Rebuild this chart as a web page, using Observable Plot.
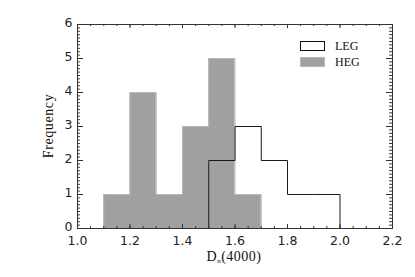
<!DOCTYPE html>
<html>
<head>
<meta charset="utf-8">
<script src="https://cdn.jsdelivr.net/npm/d3@7"></script>
<script src="https://cdn.jsdelivr.net/npm/@observablehq/plot@0.6"></script>
<style>
  html, body { margin: 0; padding: 0; background: #fff; }
  #wrap { position: relative; width: 415px; height: 277px; }
  .lg { position: absolute; font-family: "Liberation Serif", serif; font-size: 12px; color: #111; line-height: 12px; }
  .sw { position: absolute; width: 25px; height: 10px; box-sizing: border-box; }
</style>
</head>
<body>
<div id="wrap"></div>
<script>
// HEG histogram: bin starts (width 0.1) and counts
const hegBinStart = [1.1, 1.2, 1.3, 1.4, 1.5, 1.6];
const hegCounts   = [1, 4, 1, 3, 5, 1];
const binWidth = 0.1;
// LEG histogram (step outline): edges and counts
const legEdges  = [1.05, 1.5, 1.6, 1.7, 1.8, 1.9, 2.0, 2.15];
const legCounts = [0, 2, 3, 2, 1, 1, 0, 0];
// tick values
const xMajor = [1.0, 1.2, 1.4, 1.6, 1.8, 2.0, 2.2];
const xMinor = d3.range(1.0, 2.2001, 0.05).map(v => +v.toFixed(2));
const yMajor = [0, 1, 2, 3, 4, 5, 6];
const yMinor = d3.range(0, 6.0001, 0.1).map(v => +v.toFixed(1));
const legendLabels = ["LEG", "HEG"];

// HEG as a single stepped polygon (no inner bin lines)
const lastEnd = +(hegBinStart[hegBinStart.length - 1] + binWidth).toFixed(2);
const hegArea = hegBinStart.map((x, i) => ({x, y: hegCounts[i]}))
  .concat([{x: lastEnd, y: hegCounts[hegCounts.length - 1]}]);
const hegOutline = [{x: hegBinStart[0], y: 0}].concat(hegArea, [{x: lastEnd, y: 0}]);
const leg = legEdges.map((x, i) => ({x, y: legCounts[i]}));

const xTickMinor = 0.06, xTickMajor = 0.12; // in y units
const yTickMinor = 0.011, yTickMajor = 0.023; // in x units

const plot = Plot.plot({
  width: 415,
  height: 277,
  marginLeft: 77,
  marginRight: 23,
  marginTop: 24,
  marginBottom: 49,
  x: {domain: [1.0, 2.2]},
  y: {domain: [0, 6]},
  style: {fontFamily: "DejaVu Sans", fontSize: "12.5px", color: "#222", background: "#fff"},
  marks: [
    Plot.areaY(hegArea, {x: "x", y: "y", curve: "step-after", fill: "#a0a0a0"}),
    Plot.line(hegOutline, {x: "x", y: "y", curve: "step-after", stroke: "#b8b8b8", strokeWidth: 1}),
    Plot.line(leg, {x: "x", y: "y", curve: "step-after", stroke: "#1a1a1a", strokeWidth: 1}),
    // bottom & top x ticks (inward)
    Plot.ruleX(xMinor, {x: d => d, y1: 0, y2: xTickMinor, stroke: "#333"}),
    Plot.ruleX(xMinor, {x: d => d, y1: 6, y2: 6 - xTickMinor, stroke: "#333"}),
    Plot.ruleX(xMajor, {x: d => d, y1: 0, y2: xTickMajor, stroke: "#333"}),
    Plot.ruleX(xMajor, {x: d => d, y1: 6, y2: 6 - xTickMajor, stroke: "#333"}),
    // left & right y ticks (inward)
    Plot.ruleY(yMinor, {y: d => d, x1: 1.0, x2: 1.0 + yTickMinor, stroke: "#333"}),
    Plot.ruleY(yMinor, {y: d => d, x1: 2.2, x2: 2.2 - yTickMinor, stroke: "#333"}),
    Plot.ruleY(yMajor, {y: d => d, x1: 1.0, x2: 1.0 + yTickMajor, stroke: "#333"}),
    Plot.ruleY(yMajor, {y: d => d, x1: 2.2, x2: 2.2 - yTickMajor, stroke: "#333"}),
    Plot.axisX(xMajor, {tickSize: 0, tickPadding: 8, tickFormat: d3.format(".1f"), label: null}),
    Plot.axisY(yMajor, {tickSize: 0, tickPadding: 5, dy: -2, label: null}),
    Plot.frame({stroke: "#333"})
  ]
});

const wrap = document.getElementById("wrap");
wrap.appendChild(plot);

// axis titles (serif)
const ylab = document.createElement("div");
ylab.className = "lg";
ylab.style.cssText = "position:absolute;left:49px;top:126px;transform:translate(-50%,-50%) rotate(-90deg);font-size:14px;line-height:14px;white-space:nowrap;letter-spacing:0.6px;";
ylab.textContent = "Frequency";
wrap.appendChild(ylab);

const xlab = document.createElement("div");
xlab.className = "lg";
xlab.style.cssText = "position:absolute;left:234px;top:251px;transform:translateX(-50%);font-size:14px;line-height:12px;white-space:nowrap;letter-spacing:0.5px;";
xlab.innerHTML = "D<span style='font-size:7px;position:relative;top:2px'>n</span>(4000)";
wrap.appendChild(xlab);

// legend
const sw1 = document.createElement("div");
sw1.className = "sw";
sw1.style.cssText += "left:300px;top:41px;border:1px solid #111;background:#fff;";
wrap.appendChild(sw1);
const sw2 = document.createElement("div");
sw2.className = "sw";
sw2.style.cssText += "left:300px;top:57px;border:1px solid #b8b8b8;background:#a0a0a0;";
wrap.appendChild(sw2);
legendLabels.forEach((t, i) => {
  const d = document.createElement("div");
  d.className = "lg";
  d.style.left = "335px";
  d.style.top = (40 + i * 16) + "px";
  d.textContent = t;
  wrap.appendChild(d);
});
</script>
</body>
</html>
